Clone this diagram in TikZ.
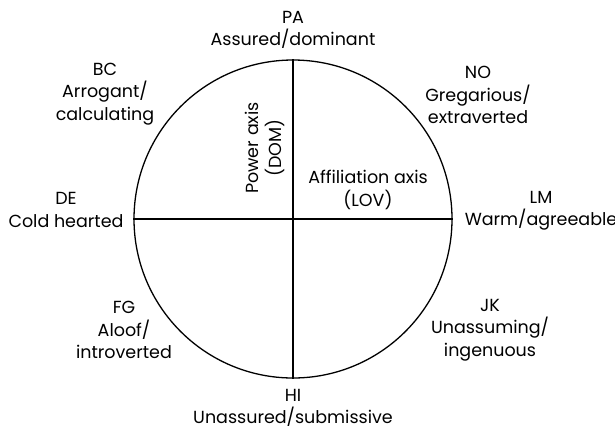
\documentclass[tikz,border=0pt]{standalone}
\usepackage{fontspec}
\setmainfont{Poppins}
\begin{document}
\begin{tikzpicture}[x=1pt,y=-1pt,
  lbl/.style={align=center,inner sep=0pt,font=\fontsize{17.5}{22.5}\selectfont},
  axisline/.style={line width=1.3pt,black}]
\useasboundingbox (0,0) rectangle (615,432);
\coordinate (c) at (293,219);
\node[circle,draw,line width=1.3pt,minimum size=318pt,inner sep=0pt] (circ) at (c) {};
\draw[axisline] (circ.north) -- (circ.south);
\draw[axisline] (circ.west) -- (circ.east);
\node[lbl] (pa) at (293,30) {PA\\Assured/dominant};
\node[lbl] (bc) at (105,94) {BC\\Arrogant/\\calculating};
\node[lbl] (no) at (478,95) {NO\\Gregarious/\\extraverted};
\node[lbl] (de) at (66,210) {DE\\Cold hearted};
\node[lbl] (lm) at (541,211) {LM\\Warm/agreeable};
\node[lbl] (fg) at (124,330) {FG\\Aloof/\\introverted};
\node[lbl] (jk) at (490,330) {JK\\Unassuming/\\ingenuous};
\node[lbl] (hi) at (293,408) {HI\\Unassured/submissive};
\node[lbl,rotate=90] (pow) at (265,148) {Power axis\\(DOM)};
\node[lbl] (aff) at (368,190) {Affiliation axis\\(LOV)};
\end{tikzpicture}
\end{document}
